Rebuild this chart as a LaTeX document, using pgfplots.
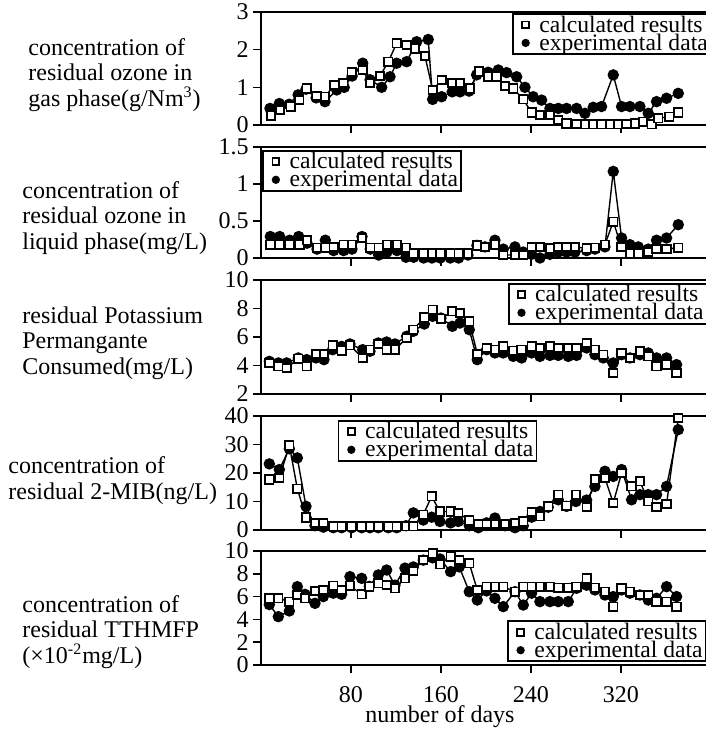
\documentclass[border=0pt]{standalone}
\usepackage{fontspec}
\setmainfont{Liberation Serif}
\usepackage{pgfplots}
\usepackage{pgfplotstable}
\pgfplotsset{compat=1.18}

\newcommand{\lbl}{\fontsize{12}{12.75}\selectfont}
\newcommand{\leg}{\fontsize{11.8}{12}\selectfont}

% ---- panel 1: residual ozone, gas phase
\pgfplotstableread{
x y
8.9 0.25
16.9 0.40
26.4 0.49
34 0.66
40.6 0.97
49.5 0.77
56.9 0.75
65.2 1.06
73.2 1.12
80.6 1.41
90.4 1.46
96.9 1.12
105.8 1.30
113.2 1.68
120.6 2.17
129.5 2.12
136.9 2.03
145.8 1.83
152.6 0.93
160.6 1.19
170 1.11
176.9 1.11
186 0.97
194 1.42
202 1.28
209.5 1.28
216.9 1.03
224.3 0.97
233.2 0.68
240.6 0.33
248 0.27
256.9 0.27
264.3 0.13
271.7 0.04
280.6 0.03
288 0.02
295.4 0.02
302.8 0.02
310.2 0.02
317.6 0.02
325 0.03
332.4 0.04
339.8 0.09
347.3 0.02
353.2 0.18
363 0.22
371 0.33
}\gasCalc
\pgfplotstableread{
x y
8 0.44
16.3 0.57
25 0.55
33 0.80
40 0.95
49 0.72
56.9 0.62
67.3 0.93
74 1.00
81 1.30
90.4 1.64
97 1.20
107.3 1.00
114.7 1.28
120.6 1.64
129.5 1.68
138.4 2.21
148.7 2.27
152.6 0.68
160.6 0.75
170 0.88
177 0.88
185 0.90
191.7 1.33
202 1.40
211 1.46
218.4 1.39
227.3 1.28
234.7 1.00
242 0.75
249.5 0.66
256.9 0.44
264.3 0.44
271.7 0.44
280.6 0.44
288 0.31
295.4 0.47
302.8 0.49
313.2 1.33
320.6 0.49
328 0.49
336.9 0.49
344.3 0.31
351.7 0.62
360.6 0.71
371 0.84
}\gasExp

% ---- panel 2: residual ozone, liquid phase
\pgfplotstableread{
x y
8.3 0.18
16.6 0.18
25.5 0.18
34.4 0.18
40.9 0.24
49.8 0.14
57.2 0.14
64.6 0.15
73.5 0.18
80.9 0.18
89.8 0.27
97.2 0.14
104.6 0.14
112 0.18
120.9 0.18
128.9 0.14
135.7 0.06
144.6 0.06
152 0.06
159.4 0.06
168.3 0.06
175.7 0.06
184 0.06
192 0.17
199.1 0.15
208 0.18
215.4 0.04
225.8 0.04
233.2 0.04
240.6 0.15
248 0.15
256.9 0.13
264.3 0.15
271.7 0.15
279.1 0.15
289.5 0.13
296.9 0.14
305.8 0.18
313.2 0.49
320.6 0.15
328 0.06
335.4 0.06
344.3 0.08
351.7 0.12
360.6 0.12
371 0.14
}\liqCalc
\pgfplotstableread{
x y
8.3 0.29
16.6 0.29
25.5 0.24
33.5 0.29
40.9 0.20
49.8 0.12
57.2 0.24
64.6 0.10
73.5 0.10
80.9 0.12
89.8 0.29
97.2 0.12
104.6 0.04
112 0.08
120.9 0.10
128.9 0.01
135.7 0.01
144.6 0.00
152 0.00
159.4 0.00
168.3 0.00
175.7 0.00
184 0.04
192 0.17
199.1 0.15
208 0.24
215.4 0.12
225.8 0.15
233.2 0.08
240.6 0.05
248 0.00
256.9 0.05
264.3 0.08
271.7 0.08
279.1 0.08
289.5 0.10
296.9 0.12
305.8 0.15
313.2 1.17
320.6 0.27
328 0.18
335.4 0.15
344.3 0.12
351.7 0.24
360.6 0.27
371 0.45
}\liqExp

% ---- panel 3: potassium permanganate consumed
\pgfplotstableread{
x y
7.4 4.18
15.4 3.94
22.8 3.82
33.2 4.48
40.6 3.94
48.9 4.81
56 4.81
63.7 5.42
71.7 5.04
79.1 5.42
90.4 4.53
96.9 5.11
104.3 5.51
111.7 5.11
119.1 5.11
129.5 5.93
135.4 6.51
145.2 7.38
152.6 7.92
160 7.28
170.1 7.80
176.9 7.68
185.2 7.10
192.3 4.81
200.6 5.23
208 5.11
215.4 5.34
224.3 5.04
231.7 5.11
240.6 5.34
248 5.23
256.9 5.34
264.3 5.23
273.2 5.23
280.6 5.23
289.5 5.58
296.9 5.11
304.3 4.76
313.2 3.47
320.6 4.88
328 4.53
336.9 5.00
344.3 4.64
351.7 3.94
360.6 4.06
369.5 3.47
}\kmnCalc
\pgfplotstableread{
x y
7.4 4.29
15.4 4.18
22.8 4.18
33.2 4.53
40.6 4.41
48.9 4.53
56 4.41
63.7 5.11
71.7 5.34
79.1 5.51
90.4 5.11
96.9 5.00
104.3 5.58
111.7 5.65
119.1 5.51
129.5 6.05
135.4 6.40
145.2 6.91
152.6 7.45
160 7.33
170.1 6.75
176.9 6.98
185.2 6.51
192.3 4.41
200.6 5.11
208 4.88
215.4 4.88
224.3 4.64
231.7 4.53
240.6 4.88
248 4.64
256.9 4.71
264.3 4.71
273.2 4.64
280.6 4.71
289.5 5.23
296.9 4.76
304.3 4.53
313.2 4.18
320.6 4.76
328 4.53
336.9 4.76
344.3 4.88
351.7 4.53
360.6 4.53
369.5 4.06
}\kmnExp

% ---- panel 4: 2-MIB
\pgfplotstableread{
x y
7.4 17.7
16.3 18.2
25.2 29.7
32.3 14.5
40 4.4
48 2.5
55.4 2.5
64.3 1.3
71.7 1.3
80.6 1.3
89.5 1.3
96.9 1.3
104.3 1.3
113.2 1.3
120.6 1.3
128.9 1.3
135.4 1.3
144.3 5.4
151.7 11.8
159.1 6.5
168.6 6.5
175.4 6.0
185.2 3.3
193.2 2.1
200.6 2.1
208 2.1
216.9 2.1
225.8 2.5
233.2 3.0
240.6 6.3
248 4.8
255.4 8.3
264.3 12.4
271.7 8.5
280 12.4
289.5 8.0
296.9 17.7
305.8 18.2
313.2 9.5
320.6 20.0
329.5 15.3
336.9 17.1
344.3 10.1
351.7 8.0
360.6 9.1
371 39.3
}\mibCalc
\pgfplotstableread{
x y
7.4 23.2
16.3 21.2
25.2 28.5
32.3 25.3
40 8.3
48 1.5
55.4 1.0
64.3 0.8
71.7 0.8
80.6 0.8
89.5 0.8
96.9 0.8
104.3 0.8
113.2 0.8
120.6 0.8
128.9 1.5
135.4 6.0
144.3 3.5
151.7 4.5
159.1 3.0
168.6 2.5
175.4 3.0
185.2 1.5
193.2 0.8
200.6 2.5
208 4.2
216.9 1.5
225.8 0.8
233.2 1.5
240.6 4.5
248 6.5
255.4 8.0
264.3 10.6
271.7 8.3
280 10.0
289.5 10.5
296.9 15.3
305.8 20.6
313.2 18.8
320.6 21.2
329.5 10.6
336.9 12.4
344.3 12.4
351.7 12.4
360.6 15.3
371 35.2
}\mibExp

% ---- panel 5: TTHMFP
\pgfplotstableread{
x y
7.4 5.85
15.4 5.85
25.2 5.56
32.3 6.14
39.1 5.85
48 6.49
55.4 6.58
64.3 6.96
71.7 6.58
79.1 6.96
89.5 6.20
96.3 6.87
104.3 7.16
111.7 7.02
119.1 6.73
128 7.60
135.4 8.25
144.3 9.21
152.6 9.80
159.1 8.83
168.6 9.50
176.3 9.21
185.2 8.92
192.3 6.58
200.6 6.87
208 6.87
215.4 6.87
225.8 6.43
233.2 6.87
240.6 6.87
248 6.87
256.9 6.87
264.3 6.78
273.2 6.78
280.6 6.87
289.5 7.60
296.9 6.78
305.8 6.43
313.2 5.12
320.6 6.73
328 6.43
336.9 6.14
344.3 6.14
351.7 5.56
360.6 5.56
369.5 5.12
}\thmCalc
\pgfplotstableread{
x y
7.4 5.30
15.4 4.24
25.2 4.74
32.3 6.87
39.1 6.20
48 5.41
55.4 6.00
64.3 6.30
71.7 6.20
79.1 7.75
89.5 7.60
96.3 6.90
104.3 7.90
111.7 8.33
119.1 7.00
128 8.50
135.4 8.60
144.3 9.20
152.6 9.40
159.1 9.30
168.6 8.19
176.3 8.60
185.2 6.43
192.3 5.70
200.6 6.50
208 5.85
215.4 5.12
225.8 6.43
233.2 5.26
240.6 6.30
248 5.56
256.9 5.56
264.3 5.56
273.2 5.56
280.6 6.73
289.5 7.00
296.9 6.58
305.8 6.14
313.2 6.00
320.6 6.58
328 6.30
336.9 6.14
344.3 5.70
351.7 5.85
360.6 6.87
369.5 6.00
}\thmExp

\pgfplotsset{
  panel/.style={
    scale only axis, width=230pt, anchor=south west,
    xmin=0, xmax=409, clip=false,
    axis y line*=left,
    axis line style={line width=1pt},
    tick style={line width=0.8pt, black},
    major tick length=4pt,
    tick align=outside, xtick pos=lower, ytick pos=left,
    xtick={80,160,240,320}, xticklabels={},
    tick label style={font=\lbl},
    yticklabel style={inner sep=2pt},
    /pgf/number format/assume math mode=true,
    legend cell align=left,
    reverse legend,
    legend style={font=\leg, draw=black, line width=0.8pt, inner sep=1pt,
      row sep=0pt, nodes={inner sep=0.5pt, text height=7.6pt, text depth=0.4pt}},
    legend image code/.code={\path (0pt,0pt) (11pt,0pt);
      \draw[##1, mark size=1.7pt] plot[only marks] coordinates {(5pt,0pt)};},
  },
  calc/.style={black, line width=0.7pt, mark=square*, mark size=2.1pt,
    mark options={fill=white, line width=0.9pt}},
  expd/.style={black, line width=0.7pt, mark=*, mark size=2.5pt},
}

\begin{document}
\begin{tikzpicture}
\useasboundingbox (0,0) rectangle (353pt,364.5pt);
\clip (0,0) rectangle (353pt,364.5pt);

\begin{axis}[panel, at={(130.5pt,302pt)}, height=56.5pt,
  ymin=0, ymax=3, ytick={0,1,2,3},
  legend style={at={(0.546,0.99)}, anchor=north west}]
\addplot[expd] table {\gasExp}; \addlegendentry{experimental data}
\addplot[calc] table {\gasCalc}; \addlegendentry{calculated results}
\end{axis}

\begin{axis}[panel, at={(130.5pt,235.5pt)}, height=55.5pt,
  ymin=0, ymax=1.5, ytick={0,0.5,1,1.5},
  legend style={at={(0.003,0.973)}, anchor=north west}]
\addplot[expd] table {\liqExp}; \addlegendentry{experimental data}
\addplot[calc] table {\liqCalc}; \addlegendentry{calculated results}
\end{axis}

\begin{axis}[panel, at={(130.5pt,167.5pt)}, height=57pt,
  ymin=2, ymax=10, ytick={2,4,6,8,10},
  legend style={at={(0.537,0.974)}, anchor=north west}]
\addplot[expd] table {\kmnExp}; \addlegendentry{experimental data}
\addplot[calc] table {\kmnCalc}; \addlegendentry{calculated results}
\end{axis}

\begin{axis}[panel, at={(130.5pt,99.5pt)}, height=57pt,
  ymin=0, ymax=40, ytick={0,10,20,30,40},
  legend style={at={(0.167,0.965)}, anchor=north west}]
\addplot[expd] table {\mibExp}; \addlegendentry{experimental data}
\addplot[calc] table {\mibCalc}; \addlegendentry{calculated results}
\end{axis}

\begin{axis}[panel, at={(130.5pt,32pt)}, height=57pt,
  ymin=0, ymax=10, ytick={0,2,4,6,8,10},
  xticklabels={80,160,240,320}, xticklabel shift=3pt,
  xlabel={number of days},
  xlabel style={font=\lbl, at={(rel axis cs:0.389,0)}, anchor=base, yshift=-28.5pt},
  legend style={at={(0.535,0.026)}, anchor=south west}]
\addplot[expd] table {\thmExp}; \addlegendentry{experimental data}
\addplot[calc] table {\thmCalc}; \addlegendentry{calculated results}
\end{axis}

\begin{scope}[every node/.style={anchor=west, align=left, inner sep=0pt, font=\lbl}]
\node at (14pt,327pt) {concentration of\\residual ozone in\\gas phase(g/Nm\textsuperscript{3})};
\node at (11pt,255.5pt) {concentration of\\residual ozone in\\liquid phase(mg/L)};
\node at (11pt,193pt) {residual Potassium\\Permangante\\Consumed(mg/L)};
\node at (4pt,124.25pt) {concentration of\\residual 2-MIB(ng/L)};
\node at (11pt,48.5pt) {concentration of\\residual TTHMFP\\(×10\textsuperscript{-2}mg/L)};
\end{scope}
\end{tikzpicture}
\end{document}
